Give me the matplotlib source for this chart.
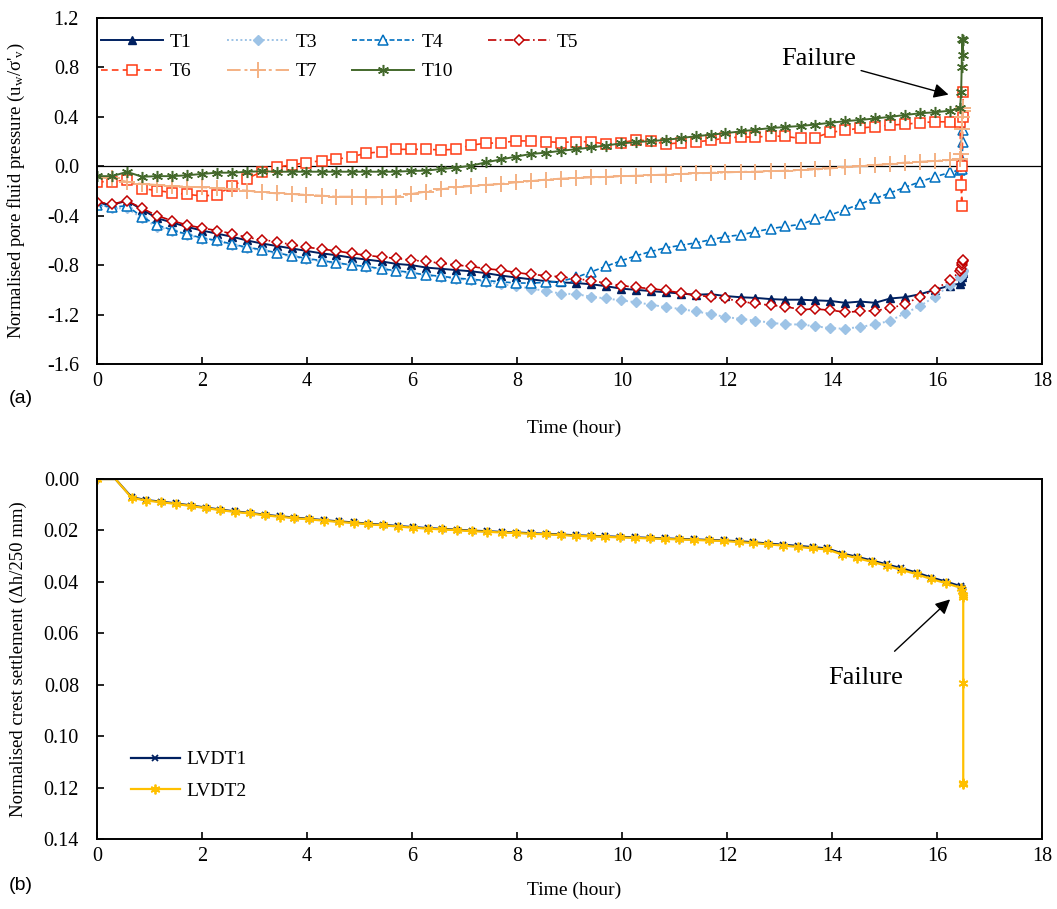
import matplotlib.pyplot as plt

plt.rcParams['font.family'] = ['Liberation Serif', 'DejaVu Serif']
plt.rcParams['mathtext.fontset'] = 'custom'
plt.rcParams['mathtext.rm'] = 'Liberation Serif'
plt.rcParams['mathtext.it'] = 'Liberation Serif:italic'

# ---- (a) pore pressure transducers ----
time_a = [0.0, 0.29, 0.57, 0.86, 1.14, 1.43, 1.71, 2.0, 2.28, 2.57,
          2.85, 3.14, 3.42, 3.71, 3.99, 4.28, 4.56, 4.85, 5.13, 5.42,
          5.7, 5.99, 6.27, 6.56, 6.84, 7.13, 7.41, 7.7, 7.98, 8.27,
          8.55, 8.84, 9.12, 9.41, 9.69, 9.98, 10.26, 10.55, 10.83, 11.12,
          11.4, 11.69, 11.97, 12.26, 12.54, 12.83, 13.11, 13.4, 13.68, 13.97,
          14.25, 14.54, 14.82, 15.11, 15.39, 15.68, 15.96, 16.25]
fail_time_a = [16.44, 16.46, 16.47, 16.48, 16.49, 16.50]

t1 = [-0.30, -0.31, -0.28, -0.35, -0.42, -0.455, -0.49, -0.52, -0.545, -0.57,
      -0.60, -0.625, -0.645, -0.665, -0.685, -0.705, -0.72, -0.74, -0.755, -0.77,
      -0.79, -0.80, -0.82, -0.83, -0.84, -0.85, -0.865, -0.885, -0.90, -0.915,
      -0.93, -0.94, -0.945, -0.955, -0.97, -0.99, -1.0, -1.01, -1.02, -1.03,
      -1.04, -1.035, -1.05, -1.06, -1.065, -1.075, -1.08, -1.08, -1.085, -1.09,
      -1.105, -1.095, -1.105, -1.07, -1.06, -1.035, -1.0, -0.965]
t3 = [-0.31, -0.34, -0.34, -0.42, -0.49, -0.52, -0.555, -0.585, -0.605, -0.635,
      -0.66, -0.68, -0.705, -0.73, -0.75, -0.77, -0.785, -0.80, -0.815, -0.835,
      -0.85, -0.865, -0.88, -0.895, -0.91, -0.92, -0.935, -0.955, -0.97, -0.99,
      -1.01, -1.03, -1.035, -1.055, -1.07, -1.085, -1.10, -1.12, -1.14, -1.155,
      -1.175, -1.195, -1.22, -1.235, -1.25, -1.265, -1.28, -1.28, -1.295, -1.31,
      -1.315, -1.30, -1.28, -1.25, -1.19, -1.13, -1.055, -0.96]
t4 = [-0.31, -0.33, -0.32, -0.41, -0.475, -0.515, -0.55, -0.58, -0.60, -0.63,
      -0.655, -0.675, -0.70, -0.725, -0.745, -0.765, -0.78, -0.80, -0.81, -0.83,
      -0.845, -0.86, -0.88, -0.89, -0.905, -0.915, -0.925, -0.935, -0.945, -0.945,
      -0.94, -0.93, -0.90, -0.855, -0.81, -0.765, -0.725, -0.69, -0.66, -0.64,
      -0.62, -0.595, -0.57, -0.555, -0.53, -0.505, -0.487, -0.47, -0.43, -0.395,
      -0.35, -0.305, -0.26, -0.215, -0.17, -0.125, -0.085, -0.05]
t5 = [-0.29, -0.305, -0.28, -0.34, -0.40, -0.44, -0.475, -0.50, -0.52, -0.545,
      -0.575, -0.595, -0.61, -0.635, -0.655, -0.67, -0.685, -0.705, -0.72, -0.735,
      -0.745, -0.76, -0.77, -0.785, -0.80, -0.81, -0.83, -0.84, -0.86, -0.875,
      -0.885, -0.895, -0.91, -0.925, -0.945, -0.965, -0.98, -0.99, -1.005, -1.025,
      -1.045, -1.055, -1.07, -1.095, -1.11, -1.125, -1.135, -1.16, -1.155, -1.165,
      -1.18, -1.175, -1.168, -1.15, -1.115, -1.055, -1.0, -0.92]
t6 = [-0.125, -0.125, -0.11, -0.18, -0.197, -0.213, -0.227, -0.24, -0.232, -0.16,
      -0.10, -0.045, -0.005, 0.01, 0.03, 0.045, 0.056, 0.078, 0.105, 0.118,
      0.137, 0.137, 0.137, 0.132, 0.137, 0.172, 0.186, 0.19, 0.205, 0.205,
      0.20, 0.192, 0.20, 0.198, 0.18, 0.19, 0.213, 0.205, 0.18, 0.19,
      0.197, 0.21, 0.228, 0.237, 0.236, 0.245, 0.242, 0.225, 0.232, 0.275,
      0.29, 0.31, 0.32, 0.333, 0.34, 0.353, 0.36, 0.36]
t7 = [-0.09, -0.097, -0.125, -0.143, -0.151, -0.16, -0.165, -0.17, -0.178, -0.186,
      -0.197, -0.21, -0.219, -0.224, -0.232, -0.238, -0.246, -0.246, -0.251, -0.251,
      -0.246, -0.224, -0.205, -0.186, -0.17, -0.16, -0.151, -0.143, -0.13, -0.12,
      -0.108, -0.10, -0.095, -0.09, -0.087, -0.08, -0.077, -0.072, -0.067, -0.063,
      -0.058, -0.053, -0.05, -0.045, -0.044, -0.04, -0.036, -0.031, -0.026, -0.017,
      -0.009, 0.002, 0.01, 0.018, 0.03, 0.037, 0.043, 0.051]
t10 = [-0.08, -0.08, -0.045, -0.085, -0.08, -0.08, -0.073, -0.062, -0.052, -0.052,
       -0.045, -0.04, -0.044, -0.044, -0.044, -0.044, -0.044, -0.044, -0.044, -0.044,
       -0.044, -0.038, -0.035, -0.022, -0.011, 0.005, 0.032, 0.056, 0.078, 0.10,
       0.11, 0.125, 0.138, 0.152, 0.168, 0.185, 0.195, 0.204, 0.213, 0.228,
       0.243, 0.255, 0.268, 0.282, 0.296, 0.309, 0.318, 0.326, 0.338, 0.352,
       0.365, 0.375, 0.387, 0.40, 0.415, 0.429, 0.437, 0.45]

# readings at failure (vertical cluster)
t1_fail = [-0.95, -0.93, -0.90, -0.88, -0.86, -0.85]
t3_fail = [-0.90, -0.89, -0.87, -0.86, -0.85, -0.84]
t4_fail = [-0.03, 0.0, -0.02, 0.05, 0.20, 0.29]
t5_fail = [-0.85, -0.83, -0.80, -0.78, -0.77, -0.76]
t6_fail = [0.36, -0.15, -0.32, 0.0, 0.40, 0.60]
t7_fail = [0.06, 0.10, 0.30, 0.40, 0.45, 0.47]
t10_fail = [0.47, 0.60, 0.80, 1.03, 0.90, 1.02]

yticks_a = [1.2, 0.8, 0.4, 0.0, -0.4, -0.8, -1.2, -1.6]
ylabels_a = ['1.2', '0.8', '0.4', '0.0', '-0.4', '-0.8', '-1.2', '-1.6']
xticks = [0, 2, 4, 6, 8, 10, 12, 14, 16, 18]

# ---- (b) crest settlement ----
time_b = [0.0, 0.35, 0.66, 0.94, 1.22, 1.51, 1.79, 2.07, 2.35, 2.63,
          2.92, 3.2, 3.48, 3.76, 4.04, 4.33, 4.61, 4.89, 5.17, 5.45,
          5.74, 6.02, 6.3, 6.58, 6.86, 7.15, 7.43, 7.71, 7.99, 8.27,
          8.56, 8.84, 9.12, 9.4, 9.68, 9.97, 10.25, 10.53, 10.81, 11.09,
          11.38, 11.66, 11.94, 12.22, 12.5, 12.79, 13.07, 13.35, 13.63, 13.91,
          14.2, 14.48, 14.76, 15.04, 15.32, 15.61, 15.89, 16.17, 16.45]
lvdt1 = [0.0, 0.0, 0.0071, 0.0082, 0.0088, 0.0095, 0.0103, 0.0111, 0.0119, 0.0126,
         0.0132, 0.0139, 0.0145, 0.0150, 0.0155, 0.0160, 0.0165, 0.0169, 0.0174, 0.0178,
         0.0183, 0.0187, 0.0191, 0.0194, 0.0197, 0.0201, 0.0203, 0.0206, 0.0208, 0.0211,
         0.0213, 0.0216, 0.0219, 0.0221, 0.0223, 0.0225, 0.0227, 0.0229, 0.0231, 0.0233,
         0.0235, 0.0237, 0.0239, 0.0242, 0.0246, 0.0251, 0.0256, 0.0260, 0.0265, 0.0270,
         0.0290, 0.0303, 0.0317, 0.0332, 0.0347, 0.0364, 0.0383, 0.0399, 0.0417]
lvdt2 = [0.0, 0.0, 0.0073, 0.0084, 0.0090, 0.0097, 0.0105, 0.0113, 0.0121, 0.0128,
         0.0134, 0.0141, 0.0147, 0.0152, 0.0157, 0.0162, 0.0167, 0.0171, 0.0176, 0.0180,
         0.0185, 0.0189, 0.0193, 0.0196, 0.0199, 0.0203, 0.0205, 0.0208, 0.0210, 0.0213,
         0.0215, 0.0218, 0.0221, 0.0223, 0.0225, 0.0227, 0.0229, 0.0231, 0.0233, 0.0235,
         0.0237, 0.0239, 0.0241, 0.0245, 0.0249, 0.0254, 0.0259, 0.0264, 0.0269, 0.0274,
         0.0294, 0.0308, 0.0322, 0.0337, 0.0353, 0.0370, 0.0389, 0.0405, 0.0423]
lvdt1_fail_t = [16.48, 16.50]
lvdt1_fail = [0.0425, 0.0430]
lvdt2_fail_t = [16.48, 16.49, 16.50, 16.50, 16.50, 16.50]
lvdt2_fail = [0.0435, 0.0450, 0.0460, 0.0795, 0.1182, 0.1185]

yticks_b = [0.00, 0.02, 0.04, 0.06, 0.08, 0.10, 0.12, 0.14]


def style_axes(ax):
    for s in ax.spines.values():
        s.set_linewidth(1.4)
        s.set_color('black')
    ax.tick_params(direction='in', length=5, width=1.2, labelsize=14.5)
    ax.tick_params(axis='x', pad=6)
    ax.tick_params(axis='y', pad=13)
    ax.set_xlim(0, 18)
    ax.set_xticks(xticks)


fig = plt.figure(figsize=(10.57, 9.09), dpi=100)
ax1 = fig.add_axes([0.0918, 0.5996, 0.894, 0.3806])
ax2 = fig.add_axes([0.0918, 0.077, 0.894, 0.396])

series_a = [
    ('T1', t1, t1_fail, dict(color='#002060', ls='-', lw=1.4, marker='^', ms=6,
                             mfc='#002060', mec='#002060')),
    ('T3', t3, t3_fail, dict(color='#9DC3E6', ls=(0, (1, 1.3)), lw=1.4, marker='D', ms=5,
                             mfc='#9DC3E6', mec='#9DC3E6')),
    ('T4', t4, t4_fail, dict(color='#0070C0', ls=(0, (3, 1.5)), lw=1.2, marker='^', ms=6.5,
                             mfc='white', mec='#0070C0', mew=1.1)),
    ('T5', t5, t5_fail, dict(color='#C00000', ls=(0, (5, 2, 1, 2)), lw=1.2, marker='D', ms=5,
                             mfc='white', mec='#C00000', mew=1.1)),
    ('T6', t6, t6_fail, dict(color='#FF3B14', ls=(0, (4, 2.5)), lw=1.2, marker='s', ms=7,
                             mfc='white', mec='#FF3B14', mew=1.1)),
    ('T7', t7, t7_fail, dict(color='#F4B183', ls=(0, (7, 2, 1.5, 2)), lw=1.4, marker='+', ms=11,
                             mec='#F4B183', mew=1.4)),
    ('T10', t10, t10_fail, dict(color='#43682B', ls='-', lw=1.4, marker=(6, 2, 0), ms=8,
                                mec='#43682B', mew=1.1)),
]

handles = {}
for name, vals, fail, kw in series_a:
    h, = ax1.plot(time_a + fail_time_a, vals + fail, label=name, **kw)
    handles[name] = h

ax1.axhline(0, color='black', lw=0.9, zorder=0.5)
style_axes(ax1)
ax1.set_ylim(-1.6, 1.2)
ax1.set_yticks(yticks_a, ylabels_a)
ax1.set_xlabel('Time (hour)', fontsize=14)
ax1.xaxis.set_label_coords(0.505, -0.162)
ax1.set_ylabel("Normalised pore fluid pressure (u$_\\mathregular{w}$/σ'$_\\mathregular{v}$)",
               fontsize=13.5)
ax1.yaxis.set_label_coords(-0.074, 0.5)

order = ['T1', 'T6', 'T3', 'T7', 'T4', 'T10', 'T5']
ax1.legend([handles[n] for n in order], order, ncol=4, loc='upper left',
           bbox_to_anchor=(0.004, 0.955), frameon=False, fontsize=14,
           handlelength=3.2, handletextpad=0.35, columnspacing=1.8,
           labelspacing=0.6, borderpad=0, borderaxespad=0, numpoints=1)

ax1.annotate('Failure', xy=(16.22, 0.58), xytext=(14.45, 0.87),
             fontsize=19, ha='right', va='center',
             arrowprops=dict(arrowstyle='-|>', color='black', lw=1.0,
                             mutation_scale=22, shrinkA=2, shrinkB=0))

# settlement
ax2.plot(time_b + lvdt1_fail_t, lvdt1 + lvdt1_fail, color='#002060', lw=1.6,
         marker='x', ms=5, mew=1.3, markevery=[0] + list(range(2, 61)), label='LVDT1')
ax2.plot(time_b + lvdt2_fail_t, lvdt2 + lvdt2_fail, color='#FFC000', lw=1.6,
         marker=(6, 2, 0), ms=7, mew=1.3, markevery=[0] + list(range(2, 65)), label='LVDT2')
style_axes(ax2)
ax2.set_ylim(0.14, 0.0)
ax2.set_yticks(yticks_b, [f'{v:.2f}' for v in yticks_b])
ax2.set_xlabel('Time (hour)', fontsize=14)
ax2.xaxis.set_label_coords(0.505, -0.118)
ax2.set_ylabel('Normalised crest settlement (Δh/250 mm)', fontsize=13.5)
ax2.yaxis.set_label_coords(-0.074, 0.5)
ax2.legend(loc='upper left', bbox_to_anchor=(0.036, 0.245), frameon=False, fontsize=14,
           handlelength=2.5, handletextpad=0.35, labelspacing=0.7,
           borderpad=0, borderaxespad=0, numpoints=1)

ax2.annotate('Failure', xy=(16.25, 0.0468), xytext=(14.64, 0.0775),
             fontsize=19, ha='center', va='center',
             arrowprops=dict(arrowstyle='-|>', color='black', lw=1.0,
                             mutation_scale=22, shrinkA=14, shrinkB=0))

fig.text(0.008, 0.562, '(a)', fontsize=14, family='Liberation Sans', va='center')
fig.text(0.008, 0.026, '(b)', fontsize=14, family='Liberation Sans', va='center')

fig.savefig('out.png', dpi=100)
